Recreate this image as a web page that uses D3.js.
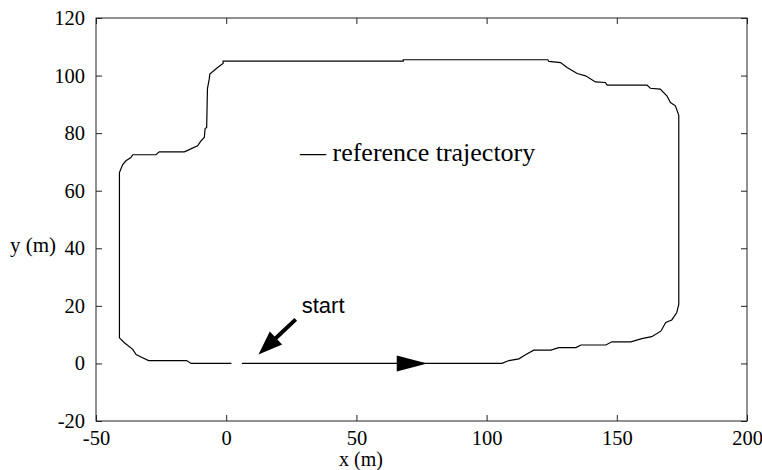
<!DOCTYPE html>
<html>
<head>
<meta charset="utf-8">
<script src="https://cdn.jsdelivr.net/npm/d3@7"></script>
<style>
  body { margin: 0; background: #fff; }
</style>
</head>
<body>
<script>
// trajectory points (x, y in metres), in driving order
const trajX = [6, 105.9, 108.6, 112.4, 115.1, 118.1, 124.7, 127.7, 134.3, 136.2, 145.8, 148.1, 155.4, 159.6, 163.4, 166.9, 168.8, 171.1, 173.0, 173.8,
  173.8, 172.5, 170.6, 169.3, 166.7, 162.9, 161.6, 146.3, 145.6, 141.8, 138.0, 134.8, 130.9, 128.4, 123.9, 123.5, 68, 68,
  -1.2, -1.2, -3.3, -6.3, -6.5, -7.2, -7.5, -8.1, -8.4, -9.7, -11.0, -14.8, -16.1, -25.7, -27.0, -35.9, -36.6, -38.5, -39.8, -41.0,
  -41.0, -39.1, -35.9, -34.6, -32.1, -29.8, -15.2, -13.5, 2];
const trajY = [0, 0, 1.0, 1.6, 3.1, 4.6, 4.6, 5.5, 5.5, 6.4, 6.4, 7.5, 7.5, 8.6, 9.3, 11.2, 14.2, 15.1, 17.6, 20.5,
  86.2, 89.5, 90.6, 92.9, 95.3, 95.6, 96.7, 96.7, 97.6, 97.8, 99.9, 100.7, 102.8, 104.5, 104.9, 105.5, 105.5, 105,
  105, 104.2, 102.8, 100.5, 98.9, 95.5, 82.0, 81.6, 78.5, 77.3, 75.6, 74.0, 73.5, 73.5, 72.5, 72.5, 71.5, 70.4, 69.0, 66.3,
  8.9, 7.2, 4.9, 3.1, 2.0, 1.0, 1.0, 0, 0];

const xTicks = [-50, 0, 50, 100, 150, 200];
const yTicks = [-20, 0, 20, 40, 60, 80, 100, 120];

// direction arrow on the path (data coords: base x, tip x, at y)
const dirArrow = { x0: 65.5, x1: 77.2, y: 0 };
// "start" pointer: tail -> tip
const startArrow = { x0: 26.7, y0: 15.3, x1: 12.4, y1: 3.1 };
const startLabel = "start";
const legendLabel = "— reference trajectory";

const serif = "'Liberation Serif', 'Times New Roman', serif";
const width = 762, height = 470;
const svg = d3.select("body").append("svg")
  .attr("width", width)
  .attr("height", height);

const x = d3.scaleLinear().domain([-50, 200]).range([96, 747]);
const y = d3.scaleLinear().domain([-20, 120]).range([421, 18]);
const fmt = d => String(d); // plain hyphen minus like the original

// frame
svg.append("rect")
  .attr("x", x(-50)).attr("y", y(120))
  .attr("width", x(200) - x(-50)).attr("height", y(-20) - y(120))
  .attr("fill", "none").attr("stroke", "#222").attr("stroke-width", 1);

// axes with inward ticks
svg.append("g").attr("class", "ax").attr("transform", `translate(0,${y(-20)})`)
  .call(d3.axisBottom(x).tickValues(xTicks).tickSizeInner(-6).tickSizeOuter(0).tickPadding(9).tickFormat(fmt));
svg.append("g").attr("class", "ax").attr("transform", `translate(0,${y(120)})`)
  .call(d3.axisTop(x).tickValues(xTicks).tickSizeInner(-6).tickSizeOuter(0).tickFormat(""));
svg.append("g").attr("class", "ax").attr("transform", `translate(${x(-50)},0)`)
  .call(d3.axisLeft(y).tickValues(yTicks).tickSizeInner(-6).tickSizeOuter(0).tickPadding(11).tickFormat(fmt));
svg.append("g").attr("class", "ax").attr("transform", `translate(${x(200)},0)`)
  .call(d3.axisRight(y).tickValues(yTicks).tickSizeInner(-6).tickSizeOuter(0).tickFormat(""));
svg.selectAll(".ax .domain").remove();
svg.selectAll(".ax .tick line").attr("stroke", "#222");
svg.selectAll(".ax .tick text")
  .attr("fill", "#000")
  .style("font-family", serif)
  .style("font-size", "20.5px");

// axis titles
svg.append("text")
  .style("font-family", serif).style("font-size", "20px")
  .attr("x", 361).attr("y", 466)
  .attr("text-anchor", "middle").text("x (m)");
svg.append("text")
  .style("font-family", serif).style("font-size", "21px")
  .attr("x", 10).attr("y", 252).text("y (m)");

// trajectory
const pts = trajX.map((d, i) => [d, trajY[i]]);
svg.append("path")
  .datum(pts)
  .attr("d", d3.line().x(d => x(d[0])).y(d => y(d[1])))
  .attr("fill", "none")
  .attr("stroke", "#000")
  .attr("stroke-width", 1.2);

// direction triangle
svg.append("path")
  .attr("d", `M${x(dirArrow.x0)},${y(dirArrow.y) - 8} L${x(dirArrow.x1)},${y(dirArrow.y)} L${x(dirArrow.x0)},${y(dirArrow.y) + 8} Z`)
  .attr("fill", "#000");

// start pointer
{
  const tx = x(startArrow.x0), ty = y(startArrow.y0);
  const hx = x(startArrow.x1), hy = y(startArrow.y1);
  const len = Math.hypot(hx - tx, hy - ty);
  const ux = (hx - tx) / len, uy = (hy - ty) / len;
  const px = -uy, py = ux;
  const headLen = 24, headW = 9, shaftW = 2;
  const bx = hx - ux * headLen, by = hy - uy * headLen;
  const p = [
    [tx + px * shaftW, ty + py * shaftW],
    [bx + px * shaftW, by + py * shaftW],
    [bx + px * headW, by + py * headW],
    [hx, hy],
    [bx - px * headW, by - py * headW],
    [bx - px * shaftW, by - py * shaftW],
    [tx - px * shaftW, ty - py * shaftW]
  ];
  svg.append("polygon").attr("points", p.map(d => d.join(",")).join(" ")).attr("fill", "#000");
}
svg.append("text")
  .attr("x", x(startArrow.x0) + 6).attr("y", y(startArrow.y0) - 6)
  .style("font-family", "'Liberation Sans', Arial, sans-serif")
  .style("font-size", "22px")
  .text(startLabel);

// legend
svg.append("text")
  .style("font-family", serif)
  .style("font-size", "26px")
  .attr("x", 300).attr("y", 161)
  .text(legendLabel);
</script>
</body>
</html>
